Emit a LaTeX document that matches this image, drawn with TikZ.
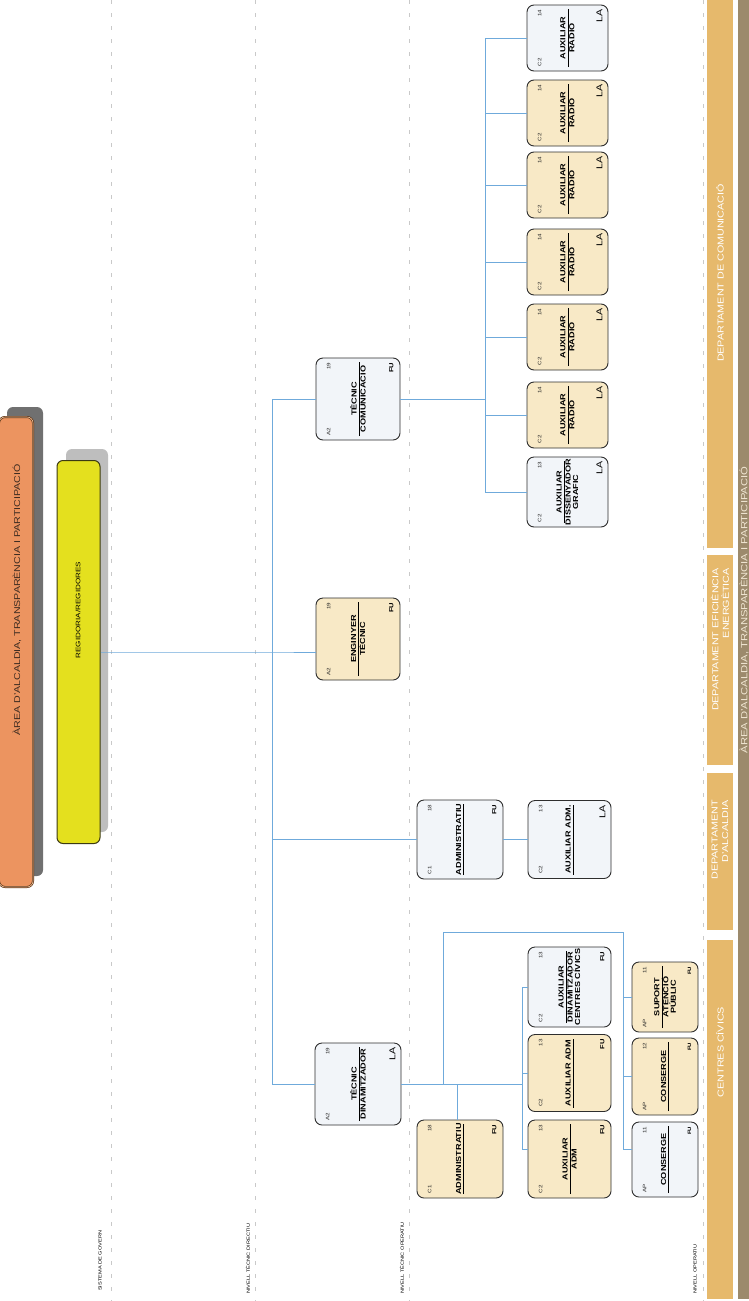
\documentclass[tikz,border=0pt]{standalone}
\usepackage{fontspec}
\setmainfont{Liberation Sans}[FakeStretch=1.25]
\usetikzlibrary{calc}
\definecolor{cream}{HTML}{F8E9C6}
\definecolor{pale}{HTML}{F2F5F9}
\definecolor{conn}{HTML}{6FAADB}
\definecolor{bandc}{HTML}{E6B96C}
\definecolor{brownbar}{HTML}{9C8A6C}
\definecolor{orangebox}{HTML}{EC9460}
\definecolor{orangeline}{HTML}{5B3416}
\definecolor{orangelight}{HTML}{F6C49C}
\definecolor{yellowbox}{HTML}{E4E01E}
\definecolor{yellowline}{HTML}{3C3A12}
\definecolor{boxline}{HTML}{2E2E2E}
\definecolor{dashc}{HTML}{C9C9C9}
\definecolor{shadowdark}{HTML}{707070}
\definecolor{shadowlight}{HTML}{BEBEBE}
\definecolor{areatext}{HTML}{3B2A20}
\definecolor{bartext}{HTML}{F0E6D2}
\newcommand\ttl[3]{#2\\[-5.5pt]\rule{#1}{0.6pt}\\[-2.5pt]#3}
\newcommand\ttla[2]{#2\\[-5.5pt]\rule{#1}{0.6pt}}
\newcommand\jobmarks[5]{%
  \node[mini, anchor=west] (#1-c) at ($(#1.north west)+(13,-5)$) {#2};
  \node[mini, anchor=east] (#1-n) at ($(#1.north east)+(13,5)$) {#3};
  \node[#5, anchor=east] (#1-t) at ($(#1.south east)+(-9,5)$) {#4};}
\begin{document}
\begin{tikzpicture}[x=1pt,y=-1pt,
  job/.style={draw=boxline, line width=0.9pt, rounded corners=7pt, rotate=90, inner sep=0pt, align=center, font=\fontsize{7.3}{8.5}\selectfont\bfseries},
  mini/.style={rotate=90, inner sep=0pt, font=\fontsize{5}{5.5}\selectfont, text=black!85},
  tagla/.style={rotate=90, inner sep=0pt, font=\fontsize{8.5}{9}\selectfont},
  tagfu/.style={rotate=90, inner sep=0pt, font=\fontsize{6}{7}\selectfont\bfseries},
  tagfus/.style={rotate=90, inner sep=0pt, font=\fontsize{4.8}{5}\selectfont\bfseries},
  conline/.style={draw=conn, line width=0.8pt},
  sepline/.style={draw=dashc, line width=0.6pt, dash pattern=on 4pt off 9pt},
  bandtxt/.style={rotate=90, text=white, font=\fontsize{8.6}{10.5}\selectfont, inner sep=0pt},
  lvl/.style={rotate=90, anchor=west, inner sep=0pt, font=\fontsize{4.5}{5}\selectfont},
  shade/.style={rotate=90, rounded corners=6pt, inner sep=0pt}]
\useasboundingbox (0,0) rectangle (748,1301);
\fill[white] (0,0) rectangle (748,1301);

% level separators
\draw[sepline] (111,0) -- (111,1301);
\draw[sepline] (255,0) -- (255,1301);
\draw[sepline] (409,0) -- (409,1301);
\draw[sepline] (703,0) -- (703,1301);

% level labels
\node[lvl] (l1) at (100,1291) {SISTEMA DE GOVERN};
\node[lvl] (l2) at (248,1294) {NIVELL TÈCNIC DIRECTIU};
\node[lvl] (l3) at (402,1294) {NIVELL TÈCNIC OPERATIU};
\node[lvl] (l4) at (695,1294) {NIVELL OPERATIU};

% department bands
\fill[bandc] (707,-2) rectangle (733,548);
\fill[bandc] (707,555) rectangle (733,765);
\fill[bandc] (707,773) rectangle (733,930);
\fill[bandc] (707,940) rectangle (733,1299);
\fill[brownbar] (738,-2) rectangle (750,1299);
\node[bandtxt] (dcom) at (720,273) {DEPARTAMENT DE COMUNICACIÓ};
\node[bandtxt, align=right, anchor=east] (defi) at (720,568) {DEPARTAMENT EFICIÈNCIA\\ENERGÈTICA};
\node[bandtxt, align=right, anchor=east] (dalc) at (720,800) {DEPARTAMENT\\D'ALCALDIA};
\node[bandtxt] (dcc) at (720,1052) {CENTRES CÍVICS};
\node[rotate=90, inner sep=0pt, text=bartext, font=\fontsize{9}{10}\selectfont] (bartxt) at (744,610) {ÀREA D'ALCALDIA, TRANSPARÈNCIA I PARTICIPACIÓ};

% government boxes
\node[shade, fill=shadowdark, minimum width=469pt, minimum height=36pt] (areash) at (25,641.5) {};
\node[rotate=90, draw=orangeline, line width=0.7pt, double=orangelight, double distance=0.6pt, fill=orangebox, rounded corners=6pt, inner sep=0pt, minimum width=470pt, minimum height=34pt] (area) at (16,652) {};
\node[rotate=90, inner sep=0pt, text=areatext, font=\fontsize{8.5}{10}\selectfont] (areatxt) at (17,600) {ÀREA D'ALCALDIA, TRANSPARÈNCIA I PARTICIPACIÓ};
\node[shade, fill=shadowlight, minimum width=383pt, minimum height=42pt] (regsh) at (87,640.5) {};
\node[rotate=90, draw=yellowline, line width=1pt, fill=yellowbox, rounded corners=6pt, inner sep=0pt, minimum width=383pt, minimum height=43pt] (reg) at (78.5,652) {};
\node[rotate=90, inner sep=0pt, font=\fontsize{6.5}{7}\selectfont] (regtxt) at (78,610) {REGIDORIA/REGIDORES};

% level 2
\node[job, fill=pale, minimum width=82pt, minimum height=84pt] (tcom) at (358,399) {\ttl{74pt}{TÈCNIC}{COMUNICACIÓ}};
\jobmarks{tcom}{A2}{19}{FU}{tagfu}
\node[job, fill=cream, minimum width=82pt, minimum height=84pt] (eng) at (358,639) {\ttl{74pt}{ENGINYER}{TÈCNIC}};
\jobmarks{eng}{A2}{19}{FU}{tagfu}
\node[job, fill=pale, minimum width=82pt, minimum height=86pt] (tdin) at (358,1084) {\ttl{74pt}{TÈCNIC}{DINAMITZADOR}};
\jobmarks{tdin}{A2}{19}{LA}{tagla}

% level 3
\node[job, fill=pale, minimum width=79pt, minimum height=86pt] (adm1) at (460,839.5) {\ttla{71pt}{ADMINISTRATIU}};
\jobmarks{adm1}{C1}{18}{FU}{tagfu}
\node[job, fill=cream, minimum width=78pt, minimum height=86pt] (adm2) at (460,1159) {\ttla{70pt}{ADMINISTRATIU}};
\jobmarks{adm2}{C1}{18}{FU}{tagfu}

% comunicacio children
\node[job, fill=pale, minimum width=66pt, minimum height=81pt] (r1) at (567.5,38) {\ttl{58pt}{AUXILIAR}{RADIO}};
\jobmarks{r1}{C2}{14}{LA}{tagla}
\node[job, fill=cream, minimum width=66pt, minimum height=81pt] (r2) at (567.5,113) {\ttl{58pt}{AUXILIAR}{RADIO}};
\jobmarks{r2}{C2}{14}{LA}{tagla}
\node[job, fill=cream, minimum width=66pt, minimum height=81pt] (r3) at (567.5,185) {\ttl{58pt}{AUXILIAR}{RADIO}};
\jobmarks{r3}{C2}{14}{LA}{tagla}
\node[job, fill=cream, minimum width=66pt, minimum height=81pt] (r4) at (567.5,262) {\ttl{58pt}{AUXILIAR}{RADIO}};
\jobmarks{r4}{C2}{14}{LA}{tagla}
\node[job, fill=cream, minimum width=66pt, minimum height=81pt] (r5) at (567.5,337) {\ttl{58pt}{AUXILIAR}{RADIO}};
\jobmarks{r5}{C2}{14}{LA}{tagla}
\node[job, fill=cream, minimum width=66pt, minimum height=81pt] (r6) at (567.5,415) {\ttl{58pt}{AUXILIAR}{RADIO}};
\jobmarks{r6}{C2}{14}{LA}{tagla}
\node[job, fill=pale, minimum width=70pt, minimum height=81pt] (r7) at (567.5,492) {\ttl{62pt}{AUXILIAR}{DISSENYADOR\\[-1pt]GRAFIC}};
\jobmarks{r7}{C2}{13}{LA}{tagla}

% level 4a
\node[job, fill=pale, minimum width=78pt, minimum height=83pt] (auxadm1) at (569.5,839.5) {\ttla{70pt}{AUXILIAR ADM.}};
\jobmarks{auxadm1}{C2}{13}{LA}{tagla}
\node[job, fill=pale, minimum width=80pt, minimum height=83pt] (auxdin) at (569.5,987) {\ttl{72pt}{AUXILIAR}{DINAMITZADOR\\[-1pt]CENTRES CÍVICS}};
\jobmarks{auxdin}{C2}{13}{FU}{tagfu}
\node[job, fill=cream, minimum width=77pt, minimum height=83pt] (auxadm2) at (569.5,1073) {\ttla{69pt}{AUXILIAR ADM}};
\jobmarks{auxadm2}{C2}{13}{FU}{tagfu}
\node[job, fill=cream, minimum width=78pt, minimum height=83pt] (auxadm3) at (569.5,1159) {\ttl{70pt}{AUXILIAR}{ADM}};
\jobmarks{auxadm3}{C2}{13}{FU}{tagfu}

% level 4b
\node[job, fill=cream, minimum width=70pt, minimum height=66pt] (suport) at (665,997) {\ttl{62pt}{SUPORT}{ATENCIÓ\\[-1pt]PÚBLIC}};
\jobmarks{suport}{AP}{11}{FU}{tagfus}
\node[job, fill=cream, minimum width=77pt, minimum height=66pt] (cons12) at (665,1076.5) {\ttla{69pt}{CONSERGE}};
\jobmarks{cons12}{AP}{12}{FU}{tagfus}
\node[job, fill=pale, minimum width=75pt, minimum height=66pt] (cons11) at (665,1159.5) {\ttla{67pt}{CONSERGE}};
\jobmarks{cons11}{AP}{11}{FU}{tagfus}

% connectors
\coordinate (tr) at (272,652);
\coordinate (trA) at (272,399);
\coordinate (trB) at (272,1084);
\coordinate (trC) at (272,839.5);
\draw[conline] (reg.south) -- (tr) -- (eng.north |- tr);
\draw[conline] (tcom) -- (trA) -- (trB) -- (tdin);
\draw[conline] (trC) -- (adm1);
\draw[conline] (adm1) -- (auxadm1);

\coordinate (cA) at (485,399);
\coordinate (cTop) at (485,38);
\coordinate (cBot) at (485,492);
\draw[conline] (tcom) -- (cA);
\draw[conline] (cTop) -- (cBot);
\foreach \b in {r1,r2,r3,r4,r5,r6,r7} \draw[conline] (cTop |- \b) -- (\b);

\coordinate (dA) at (522,1084);
\coordinate (dTop) at (522,987);
\coordinate (dBot) at (522,1149);
\coordinate (dB) at (457,1084);
\draw[conline] (tdin) -- (dA);
\draw[conline] (dTop) -- (dBot);
\draw[conline] (dTop |- auxdin) -- (auxdin);
\draw[conline] (dTop |- auxadm2) -- (auxadm2);
\draw[conline] (dBot) -- (auxadm3.north |- dBot);
\draw[conline] (dB) -- (adm2.east -| dB);

\coordinate (eA) at (443,1084);
\coordinate (eB) at (443,932);
\coordinate (eC) at (623,932);
\coordinate (eD) at (623,1149);
\draw[conline] (eA) -- (eB) -- (eC) -- (eD);
\draw[conline] (eC |- suport) -- (suport);
\draw[conline] (eC |- cons12) -- (cons12);
\draw[conline] (eD) -- (cons11.north |- eD);
\end{tikzpicture}
\end{document}
